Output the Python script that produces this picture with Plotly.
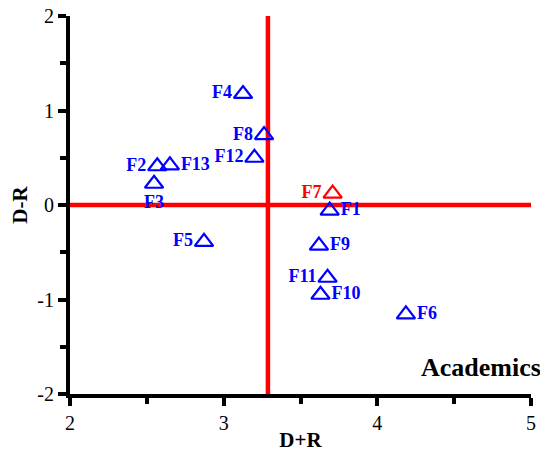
import plotly.graph_objects as go

labels = ["F1", "F2", "F3", "F4", "F5", "F6", "F7", "F8", "F9", "F10", "F11", "F12", "F13"]
d_plus_r = [3.69, 2.568, 2.547, 3.126, 2.872, 4.186, 3.709, 3.263, 3.62, 3.63, 3.676, 3.20, 2.65]
d_minus_r = [-0.06, 0.41, 0.225, 1.175, -0.39, -1.157, 0.12, 0.74, -0.43, -0.95, -0.77, 0.50, 0.42]
label_pos = ["middle right", "middle left", "bottom center", "middle left", "middle left",
             "middle right", "middle left", "middle left", "middle right", "middle right",
             "middle left", "middle left", "middle right"]
point_colors = ["blue", "blue", "blue", "blue", "blue", "blue", "red", "blue", "blue",
                "blue", "blue", "blue", "blue"]

x_threshold = 3.288
x_range = [2, 5]
y_range = [-2, 2]
x_ticks = [2, 3, 4, 5]
y_ticks = [-2, -1, 0, 1, 2]
y_ticktext = ["-2", "-1", "0", "1", "2"]

font_family = "Liberation Serif"

fig = go.Figure()

# threshold lines
fig.add_trace(go.Scatter(x=[x_threshold, x_threshold], y=y_range, mode="lines",
                         line=dict(color="red", width=4.5), showlegend=False, hoverinfo="skip"))
fig.add_trace(go.Scatter(x=x_range, y=[0, 0], mode="lines",
                         line=dict(color="red", width=4.5), showlegend=False, hoverinfo="skip"))

fig.add_trace(go.Scatter(
    x=d_plus_r, y=d_minus_r, mode="markers+text",
    text=labels, textposition=label_pos,
    textfont=dict(family=font_family, size=18, color=point_colors, weight="bold"),
    marker=dict(symbol="triangle-up-open", size=16, color=point_colors,
                line=dict(width=2.2, color=point_colors)),
    showlegend=False, cliponaxis=False,
))

axis_common = dict(
    showline=True, linecolor="black", linewidth=4,
    ticks="outside", ticklen=8, tickwidth=4, tickcolor="black",
    showgrid=False, zeroline=False, automargin=False,
    ticklabeloverflow="allow",
    tickfont=dict(family=font_family, size=20, color="black"),
    mirror=False,
)

fig.update_xaxes(range=x_range, tickmode="array", tickvals=x_ticks,
                 ticktext=[str(v) for v in x_ticks],
                 minor=dict(dtick=0.5, tick0=2, ticklen=6, tickwidth=4, tickcolor="black", ticks="outside"),
                 title=dict(text="<b>D+R</b>", font=dict(family=font_family, size=21, color="black"),
                            standoff=0),
                 **axis_common)
fig.update_yaxes(range=y_range, tickmode="array", tickvals=y_ticks, ticktext=y_ticktext,
                 minor=dict(dtick=0.5, tick0=-2, ticklen=6, tickwidth=4, tickcolor="black", ticks="outside"),
                 title=dict(text="<b>D-R</b>", font=dict(family=font_family, size=21, color="black"),
                            standoff=10),
                 **axis_common)

fig.add_annotation(text="<b>Academics</b>", xref="paper", yref="paper",
                   x=1.025, y=0.07, xanchor="right", yanchor="middle", showarrow=False,
                   font=dict(family=font_family, size=26, color="black"))

# page body has an 8px margin, so the figure is sized to fit the window
fig.update_layout(
    width=540, height=447,
    margin=dict(l=62, r=17, t=8, b=61),
    paper_bgcolor="white", plot_bgcolor="white",
)

fig.write_html("out.html")
